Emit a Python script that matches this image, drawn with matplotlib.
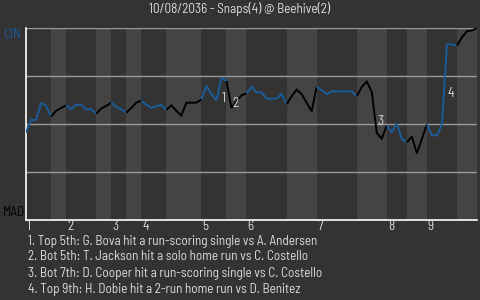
import matplotlib
matplotlib.use("Agg")
import matplotlib.pyplot as plt

FONT = ["Barlow Semi Condensed", "DejaVu Sans"]
plt.rcParams["font.family"] = FONT

title = "10/08/2036 - Snaps(4) @ Beehive(2)"
away_label = "CIN"
home_label = "MAD"

# win probability for the away team (CIN) after each plate appearance
win_prob = [0.455, 0.521, 0.521, 0.608, 0.597, 0.538, 0.569, 0.583, 0.597, 0.577,
            0.601, 0.601, 0.577, 0.577, 0.554, 0.580, 0.594, 0.611, 0.590, 0.577,
            0.559, 0.583, 0.611, 0.621, 0.601, 0.583, 0.594, 0.599, 0.573, 0.597,
            0.569, 0.544, 0.611, 0.611, 0.611, 0.628, 0.698, 0.656, 0.622, 0.740,
            0.724, 0.583, 0.618, 0.649, 0.660, 0.694, 0.665, 0.665, 0.632, 0.632,
            0.632, 0.656, 0.603, 0.644, 0.679, 0.656, 0.611, 0.566, 0.694, 0.677,
            0.655, 0.670, 0.670, 0.670, 0.670, 0.670, 0.644, 0.693, 0.721, 0.667,
            0.453, 0.424, 0.492, 0.458, 0.503, 0.422, 0.404, 0.435, 0.347, 0.422,
            0.498, 0.441, 0.441, 0.498, 0.915, 0.915, 0.908, 0.952, 0.983, 0.987,
            1.0]

# plate-appearance index where each half inning starts (top 1, bot 1, top 2, ...)
half_starts = [0, 5, 8, 14, 17, 20, 23, 28, 35, 40, 44, 52, 58, 66, 72, 76, 80, 86, 90]
inning_labels = ["1", "2", "3", "4", "5", "6", "7", "8", "9"]

event_index = [39, 41, 70, 84]
event_numbers = ["1", "2", "3", "4"]
event_notes = [
    "1. Top 5th: G. Bova hit a run-scoring single vs A. Andersen",
    "2. Bot 5th: T. Jackson hit a solo home run vs C. Costello",
    "3. Bot 7th: D. Cooper hit a run-scoring single vs C. Costello",
    "4. Top 9th: H. Dobie hit a 2-run home run vs D. Benitez",
]

BG = "#333333"
LIGHT = "#444444"
BLUE = "#1a5c99"
TXT = "#dddddd"

fig = plt.figure(figsize=(4.8, 3.0), dpi=100, facecolor=BG)
ax = fig.add_axes([26/480, 1-220/300, 451/480, 192/300])
ax.set_facecolor(BG)

n_half = len(half_starts) - 1
for h in range(n_half):
    a, b = half_starts[h], half_starts[h+1]
    if h % 2 == 1:
        ax.axvspan(a, b, color=LIGHT, lw=0, zorder=0)
    color = BLUE if h % 2 == 0 else "black"
    xs = list(range(a, b + 1))
    ax.plot(xs, win_prob[a:b+1], color=color, lw=1.4, zorder=3,
            solid_capstyle="butt", solid_joinstyle="miter")

for yv in [0.25, 0.5, 0.75, 1.0]:
    ax.axhline(yv, color="#9a9a9a", lw=1, zorder=1)

ax.set_xlim(0, half_starts[-1])
ax.set_ylim(0, 1)
ax.set_xticks([])
ax.set_yticks([])
for s in ["top", "right"]:
    ax.spines[s].set_visible(False)
for s in ["left", "bottom"]:
    ax.spines[s].set_color("white")
    ax.spines[s].set_linewidth(1.2)

fs = 9.5
for k, lab in enumerate(inning_labels):
    ax.text(half_starts[2*k] + 0.2, -0.036, lab, ha="left", va="center", color=TXT,
            fontsize=fs, transform=ax.get_xaxis_transform())

for idx, num in zip(event_index, event_numbers):
    mid = (win_prob[idx-1] + win_prob[idx]) / 2
    ax.text(idx + 0.1, mid - 0.012, num, ha="left", va="top", color=TXT, fontsize=fs,
            zorder=4)

fig.text(0.5, 1-8.5/300, title, ha="center", va="center", color=TXT, fontsize=fs)
fig.text(3/480, 1-34/300, away_label, ha="left", va="center", color=BLUE, fontsize=fs)
fig.text(3/480, 1-212/300, home_label, ha="left", va="center", color="black", fontsize=fs)

for k, note in enumerate(event_notes):
    fig.text(28/480, 1-(241+16*k)/300, note, ha="left", va="center", color=TXT,
             fontsize=fs)

fig.savefig("out.png", dpi=100, facecolor=BG)
